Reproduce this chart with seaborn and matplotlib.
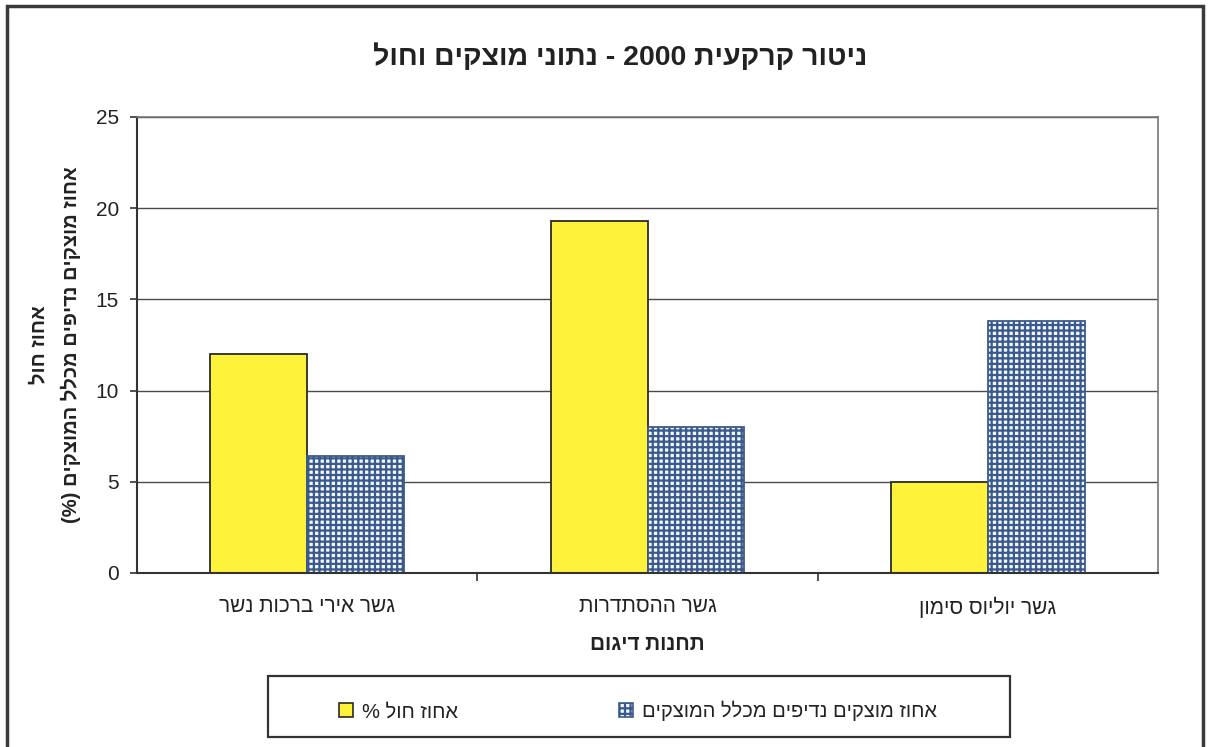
import re
import matplotlib
matplotlib.use("Agg")
import matplotlib.pyplot as plt
from matplotlib.patches import Patch, Rectangle
from matplotlib.ticker import FixedLocator
import seaborn as sns
import pandas as pd

# ---- data (logical Hebrew text, left-to-right order as shown) ----
stations = ["גשר אירי ברכות נשר", "גשר ההסתדרות", "גשר יוליוס סימון"]
sand_pct = [12.0, 19.3, 5.0]
volatile_pct = [6.4, 8.0, 13.8]
series_names = ["אחוז חול %", "אחוז מוצקים נדיפים מכלל המוצקים"]
title_text = "ניטור קרקעית 2000 - נתוני מוצקים וחול"
ylabel_line1 = "אחוז חול"
ylabel_line2 = "אחוז מוצקים נדיפים מכלל המוצקים (%)"
xlabel_text = "תחנות דיגום"
yticks = [0, 5, 10, 15, 20, 25]

YELLOW = "#fff23a"
HATCH_BLUE = "#3a5a8e"


def vis(s):
    """Convert logical RTL Hebrew string into visual order for matplotlib."""
    r = s[::-1]
    r = re.sub(r"[0-9.,]+", lambda m: m.group(0)[::-1], r)
    r = r.translate(str.maketrans("()", ")("))
    return r


sns.set_style("white")
FAM = ["Liberation Sans", "DejaVu Sans"]
plt.rcParams["font.family"] = FAM
plt.rcParams["hatch.linewidth"] = 1.6

df = pd.DataFrame({
    "station": [vis(s) for s in stations] * 2,
    "value": sand_pct + volatile_pct,
    "series": [series_names[0]] * 3 + [series_names[1]] * 3,
})

W, H = 1208, 747
fig = plt.figure(figsize=(W / 100, H / 100), dpi=100)
ax = fig.add_axes([137 / W, 1 - 573 / H, (1158 - 137) / W, (573 - 117) / H])

sns.barplot(data=df, x="station", y="value", hue="series",
            hue_order=series_names, palette=[YELLOW, "white"],
            width=0.57, gap=0, dodge=True, ax=ax, legend=False,
            edgecolor="#2a2a2a", linewidth=1.3, saturation=1, errorbar=None)

for p in ax.containers[1]:
    p.set_hatch("+++")
    p.set_edgecolor(HATCH_BLUE)
    p.set_facecolor("#f4f7fc")

ax.set_ylim(0, 25)
ax.set_xlim(-0.5, 2.5)
ax.set_yticks(yticks)
ax.yaxis.grid(True, color="#4a4a4a", linewidth=1.0)
ax.set_axisbelow(True)

for side in ["top", "right"]:
    ax.spines[side].set_color("#777777")
    ax.spines[side].set_linewidth(1.2)
for side in ["left", "bottom"]:
    ax.spines[side].set_color("#333333")
    ax.spines[side].set_linewidth(1.5)

ax.tick_params(axis="y", direction="out", length=5, width=1.2, color="#333333",
               pad=8, labelsize=15, labelcolor="#222222", left=True)
ax.tick_params(axis="x", which="major", length=0, pad=17, labelsize=15,
               labelcolor="#222222")
ax.xaxis.set_minor_locator(FixedLocator([0.5, 1.5]))
ax.tick_params(axis="x", which="minor", direction="out", length=6, width=1.2,
               color="#333333", bottom=True)
ax.set_xlabel("")
ax.set_ylabel("")

ax.set_xlabel(vis(xlabel_text), fontsize=15, fontweight="bold",
              color="#222222", labelpad=12)

fig.text(620 / W, 1 - 57 / H, vis(title_text), ha="center", va="center",
         fontsize=20.5, fontweight="bold", color="#222222")
fig.text(39 / W, 1 - 345 / H, vis(ylabel_line1), rotation=90, ha="center",
         va="center", fontsize=14.5, fontweight="bold", color="#222222")
fig.text(71 / W, 1 - 345 / H, vis(ylabel_line2), rotation=90, ha="center",
         va="center", fontsize=14.5, fontweight="bold", color="#222222")

handles = [
    Patch(facecolor=YELLOW, edgecolor="#2a2a2a", linewidth=1.2),
    Patch(facecolor="#f4f7fc", edgecolor=HATCH_BLUE, hatch="+++", linewidth=1.2),
]
fig.legend(handles, [vis(s) for s in series_names], ncol=2, frameon=False,
           loc="center left", bbox_to_anchor=(331 / W, 1 - 711 / H),
           fontsize=14.5, handlelength=0.7, handleheight=0.7,
           handletextpad=0.45, columnspacing=8.0, borderaxespad=0,
           labelcolor="#222222")

fig.patches.append(Rectangle((268 / W, 1 - 737 / H), (1010 - 268) / W, 61 / H,
                             transform=fig.transFigure, fill=False,
                             edgecolor="#333333", linewidth=1.6))
fig.patches.append(Rectangle((7 / W, -0.02), (1203 - 7) / W, 1.02 - 6 / H,
                             transform=fig.transFigure, fill=False,
                             edgecolor="#3a3a3a", linewidth=2.5))

fig.savefig("out.png", dpi=100)
